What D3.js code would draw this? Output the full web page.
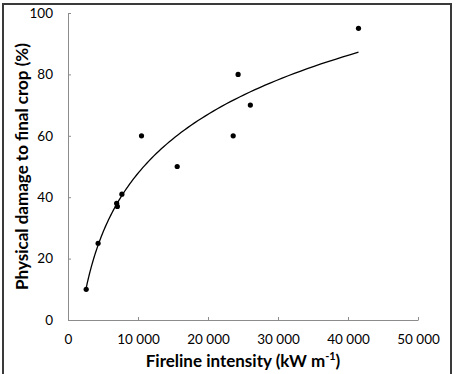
<!DOCTYPE html>
<html lang="en">
<head>
    <meta charset="UTF-8">
    <title>Fireline intensity vs crop damage</title>
    <script src="https://d3js.org/d3.v7.min.js"></script>
    <style>
        body { margin: 0; background: #fff; }
        svg { display: block; font-family: Lato, "Open Sans", sans-serif; }
    </style>
</head>
<body>
    <div id="chart"></div>
    <script>
        // Observed points
        const intensity = [2600, 4300, 6950, 7050, 7700, 10500, 15600, 23600, 24300, 26050, 41500];
        const damage = [10, 25, 38, 37, 41, 60, 50, 60, 80, 70, 95];

        const xTicks = [0, 10000, 20000, 30000, 40000, 50000];
        const yTicks = [0, 20, 40, 60, 80, 100];

        const width = 456, height = 374;
        const margin = {top: 13, right: 38, bottom: 54, left: 68};

        const svg = d3.select("#chart").append("svg")
            .attr("width", width)
            .attr("height", height);

        // outer frame
        svg.append("rect")
            .attr("x", 3).attr("y", 4)
            .attr("width", 448).attr("height", 380)
            .attr("fill", "none")
            .attr("stroke", "#3a3a3a")
            .attr("stroke-width", 2);

        const x = d3.scaleLinear().domain([0, 50000]).range([margin.left, width - margin.right]);
        const y = d3.scaleLinear().domain([0, 100]).range([height - margin.bottom, margin.top]);

        const fmt = d => d === 0 ? "0" : d3.format(",")(d).replace(",", " ");

        // axes
        const xAxis = svg.append("g")
            .attr("transform", `translate(0,${y(0)})`)
            .call(d3.axisBottom(x).tickValues(xTicks).tickSizeInner(-3).tickSizeOuter(0).tickFormat(fmt).tickPadding(14));
        const yAxis = svg.append("g")
            .attr("transform", `translate(${x(0)},0)`)
            .call(d3.axisLeft(y).tickValues(yTicks).tickSizeInner(-3).tickSizeOuter(0).tickPadding(15));

        [xAxis, yAxis].forEach(g => {
            g.select(".domain").attr("stroke", "#8c8c8c");
            g.selectAll(".tick line").attr("stroke", "#8c8c8c");
            g.selectAll(".tick text")
                .attr("fill", "#000")
                .style("font-size", "13.5px")
                .style("font-family", "Lato, 'Open Sans', sans-serif");
        });
        xAxis.selectAll(".tick text").attr("xml:space", "preserve").style("white-space", "pre");

        // logarithmic trend line fitted to the points
        const lx = intensity.map(Math.log);
        const mx = d3.mean(lx), my = d3.mean(damage);
        const a = d3.sum(lx, (v, i) => (v - mx) * (damage[i] - my)) / d3.sum(lx, v => (v - mx) ** 2);
        const b = my - a * mx;
        const x0 = d3.min(intensity), x1 = d3.max(intensity);
        const curve = d3.range(0, 101).map(i => {
            const v = x0 * Math.pow(x1 / x0, i / 100);
            return [v, a * Math.log(v) + b];
        });

        svg.append("path")
            .datum(curve)
            .attr("fill", "none")
            .attr("stroke", "#000")
            .attr("stroke-width", 1.3)
            .attr("d", d3.line().x(d => x(d[0])).y(d => y(d[1])));

        svg.selectAll("circle")
            .data(intensity)
            .enter()
            .append("circle")
            .attr("cx", d => x(d))
            .attr("cy", (d, i) => y(damage[i]))
            .attr("r", 2.6)
            .attr("fill", "#000");

        // axis titles
        const xt = svg.append("text")
            .attr("x", (x(0) + x(50000)) / 2)
            .attr("y", 367)
            .attr("text-anchor", "middle")
            .style("font-size", "17px")
            .style("font-weight", "bold");
        xt.append("tspan").text("Fireline intensity (kW m");
        xt.append("tspan").attr("dy", -7).style("font-size", "11px").text("-1");
        xt.append("tspan").attr("dy", 7).text(")");

        svg.append("text")
            .attr("transform", `translate(28,${(y(0) + y(100)) / 2}) rotate(-90)`)
            .attr("text-anchor", "middle")
            .style("font-size", "17px")
            .style("font-weight", "bold")
            .text("Physical damage to final crop (%)");
    </script>
</body>
</html>
